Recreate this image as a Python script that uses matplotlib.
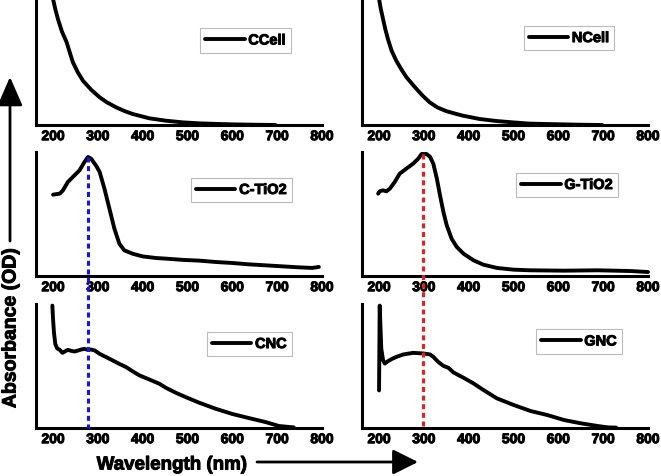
import matplotlib
matplotlib.use("Agg")
import matplotlib.pyplot as plt
import matplotlib.patheffects as pe
from matplotlib.patches import FancyArrowPatch
from matplotlib.lines import Line2D

plt.rcParams['font.family'] = ['Liberation Sans', 'DejaVu Sans']
plt.rcParams['font.weight'] = 'bold'
plt.rcParams['lines.scale_dashes'] = False

# ---------------- data (wavelength nm, relative absorbance) ----------------
ccell_x = [200, 205, 211, 220, 230, 244, 255, 267, 285, 304, 320, 341, 360, 378, 415, 452,
           489, 526, 560, 600, 650, 696]
ccell_y = [1.0, 0.92, 0.84, 0.74, 0.66, 0.50, 0.42, 0.35, 0.28, 0.22, 0.18, 0.14, 0.11,
           0.087, 0.053, 0.034, 0.021, 0.013, 0.009, 0.005, 0.002, 0.0]

ncell_x = [200, 204, 209, 214, 220, 228, 238.5, 250, 261, 280, 298, 313, 330, 350, 370, 387,
           424, 461, 498, 535, 570, 609, 650, 698]
ncell_y = [1.0, 0.92, 0.84, 0.76, 0.68, 0.59, 0.51, 0.44, 0.38, 0.30, 0.23, 0.18, 0.14,
           0.11, 0.09, 0.074, 0.048, 0.032, 0.021, 0.011, 0.008, 0.005, 0.002, 0.0]

ctio2_x = [200, 215, 222, 233, 244, 259, 270, 278, 285, 296, 304, 315, 326, 337, 348, 359,
           378, 400, 430, 452, 489, 526, 563, 600, 637, 674, 711, 748, 778, 793]
ctio2_y = [0.656, 0.664, 0.69, 0.758, 0.798, 0.852, 0.919, 0.960, 0.946, 0.89, 0.839, 0.70,
           0.54, 0.38, 0.26, 0.207, 0.179, 0.158, 0.145, 0.14, 0.13, 0.124, 0.113, 0.105,
           0.094, 0.086, 0.078, 0.07, 0.065, 0.073]

gtio2_x = [198, 201.5, 209, 216.5, 224, 235, 246, 261, 276, 287.5, 295, 306, 314, 321, 329,
           336, 343.6, 351, 362, 373.5, 388.5, 411, 433, 463, 500.7, 538, 613, 688, 762, 800]
gtio2_y = [0.664, 0.683, 0.691, 0.683, 0.704, 0.758, 0.825, 0.866, 0.906, 0.946, 0.984, 0.984,
           0.960, 0.906, 0.785, 0.651, 0.516, 0.409, 0.30, 0.234, 0.180, 0.126, 0.091, 0.065,
           0.051, 0.046, 0.043, 0.046, 0.040, 0.032]

cnc_x = [198.5, 200, 202, 205, 209, 215, 221, 226, 233, 241, 248, 256, 263, 270, 278, 285,
         293, 304, 326, 348, 363, 378, 393, 415, 437, 452, 474, 496, 526, 563, 600, 637,
         674, 704, 737]
cnc_y = [0.987, 0.88, 0.772, 0.678, 0.643, 0.630, 0.606, 0.617, 0.630, 0.622, 0.617, 0.625,
         0.633, 0.638, 0.630, 0.633, 0.625, 0.598, 0.558, 0.517, 0.491, 0.456, 0.424, 0.391,
         0.357, 0.324, 0.284, 0.249, 0.204, 0.155, 0.113, 0.080, 0.048, 0.016, 0.005]

gnc_x = [200, 201.5, 205, 209, 212.7, 220, 227.7, 239, 254, 276, 299, 314, 321, 332, 343.6,
         355, 366, 388.5, 411, 433, 463, 500.7, 538, 575, 613, 650, 688, 710, 729]
gnc_y = [0.303, 0.987, 0.64, 0.547, 0.52, 0.539, 0.555, 0.574, 0.593, 0.606, 0.601, 0.593,
         0.574, 0.533, 0.501, 0.485, 0.448, 0.405, 0.359, 0.306, 0.239, 0.185, 0.137, 0.105,
         0.064, 0.038, 0.016, 0.005, 0.003]

labels = ["CCell", "NCell", "C-TiO2", "G-TiO2", "CNC", "GNC"]
xticks = [200, 300, 400, 500, 600, 700, 800]
peak_left = 278    # blue dashed marker
peak_right = 297   # red dashed marker

# ---------------- layout ----------------
W, H = 661, 477
fig = plt.figure(figsize=(W / 100, H / 100), dpi=100)

def fx(px):
    return px / W

def fy(py):
    return 1 - py / H

cols = [(36, 322), (362, 648)]
rows = [(0, 126), (153, 277), (305, 429)]

series = [(ccell_x, ccell_y), (ncell_x, ncell_y),
          (ctio2_x, ctio2_y), (gtio2_x, gtio2_y),
          (cnc_x, cnc_y), (gnc_x, gnc_y)]
leg_pos = [(0.7325, 0.671), (0.724, 0.690),
           (0.7185, 0.694), (0.717, 0.734),
           (0.7465, 0.677), (0.759, 0.698)]

stroke = [pe.withStroke(linewidth=0.7, foreground='black')]

axes = []
for i, (xs, ys) in enumerate(series):
    r, c = divmod(i, 2)
    x0, x1 = cols[c]
    y0, y1 = rows[r]
    ax = fig.add_axes([fx(x0), fy(y1), (x1 - x0) / W, (y1 - y0) / H])
    ax.plot(xs, ys, color='black', lw=2.8, solid_capstyle='round',
            solid_joinstyle='round', label=labels[i], clip_on=False)
    ax.set_xlim(162, 800)
    ax.set_ylim(0, 1)
    ax.set_xticks(xticks)
    ax.set_yticks([])
    ax.tick_params(axis='x', length=0, pad=3, labelsize=10)
    for t in ax.get_xticklabels():
        t.set_fontweight('bold')
        t.set_path_effects(stroke)
    for s in ['top', 'right']:
        ax.spines[s].set_visible(False)
    for s in ['left', 'bottom']:
        ax.spines[s].set_linewidth(2.2)
    ax.patch.set_alpha(0)
    leg = ax.legend(loc='center', bbox_to_anchor=leg_pos[i], fancybox=False,
                    framealpha=1, edgecolor='#bbbbbb', handlelength=2.7,
                    handletextpad=0.25, borderpad=0.35, borderaxespad=0,
                    prop={'weight': 'bold', 'size': 10.5})
    leg.get_frame().set_linewidth(0.8)
    for t in leg.get_texts():
        t.set_path_effects(stroke)
    axes.append(ax)

# dashed markers spanning middle and bottom panels (positions from the axes' own transforms)
inv = fig.transFigure.inverted()

def vline_between(ax_top, ax_bot, xval, ytop, color):
    p_top = inv.transform(ax_top.transData.transform((xval, ytop)))
    p_bot = inv.transform(ax_bot.transData.transform((xval, 0)))
    ln = Line2D([p_top[0], p_bot[0]], [p_top[1], p_bot[1]], transform=fig.transFigure,
                color=color, lw=2.2, linestyle=(0, (3.6, 2.6)), dash_capstyle='butt',
                zorder=5)
    fig.add_artist(ln)

vline_between(axes[2], axes[4], peak_left, 0.96, '#1414f0')
vline_between(axes[3], axes[5], peak_right, 0.984, '#f01c1c')

# axis titles with arrows
fig.text(fx(171.5), fy(466), "Wavelength (nm)", ha='center', va='center',
         fontsize=13.5, fontweight='bold', path_effects=stroke)
fig.text(fx(11), fy(329), "Absorbance (OD)", ha='center', va='center',
         rotation=90, fontsize=14, fontweight='bold', path_effects=stroke)

arr1 = FancyArrowPatch((fx(257), fy(463)), (fx(418), fy(463)),
                       transform=fig.transFigure, arrowstyle='-|>,head_length=7,head_width=3.5',
                       color='black', lw=2.0, mutation_scale=2.2, shrinkA=0, shrinkB=0)
fig.add_artist(arr1)
arr2 = FancyArrowPatch((fx(10), fy(242)), (fx(10), fy(78)),
                       transform=fig.transFigure, arrowstyle='-|>,head_length=8,head_width=3.5',
                       color='black', lw=2.0, mutation_scale=2.2, shrinkA=0, shrinkB=0)
fig.add_artist(arr2)

fig.savefig("out.png", dpi=100)
